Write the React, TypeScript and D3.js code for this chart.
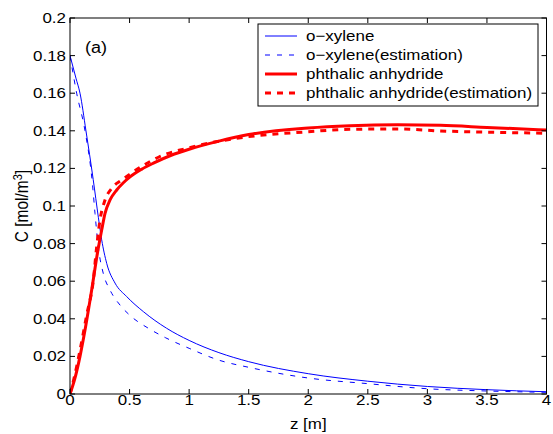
import React from "react";
import * as d3 from "d3";

const xyleneZ = [0, 0.05, 0.084, 0.134, 0.195, 0.238, 0.266, 0.308, 0.378, 0.476, 0.616, 0.81, 1.0, 1.25, 1.5, 2.0, 2.5, 3.0, 3.5, 4.0];
const xyleneC = [0.18, 0.168, 0.16, 0.14, 0.114, 0.094, 0.082, 0.0695, 0.059, 0.0518, 0.0438, 0.035, 0.0285, 0.022, 0.0172, 0.0108, 0.0068, 0.004, 0.0023, 0.0012];

const xyleneEstZ = [0, 0.056, 0.126, 0.188, 0.21, 0.238, 0.28, 0.336, 0.42, 0.5, 0.67, 0.8, 1.0, 1.25, 1.5, 2.0, 2.5, 3.0, 3.5, 4.0];
const xyleneEstC = [0.18, 0.16, 0.14, 0.112, 0.096, 0.078, 0.064, 0.0553, 0.0473, 0.042, 0.0345, 0.03, 0.0243, 0.018, 0.0142, 0.0085, 0.0055, 0.0028, 0.0016, 0.0009];

const paZ = [0, 0.04, 0.084, 0.126, 0.182, 0.23, 0.266, 0.294, 0.336, 0.392, 0.45, 0.504, 0.6, 0.7, 0.85, 1.0, 1.25, 1.5, 2.0, 2.35, 2.75, 3.11, 3.5, 4.0];
const paC = [0, 0.008, 0.02, 0.034, 0.0553, 0.0748, 0.0872, 0.0961, 0.1032, 0.1085, 0.1125, 0.1155, 0.1195, 0.1228, 0.127, 0.1302, 0.1345, 0.138, 0.1415, 0.1427, 0.1432, 0.1429, 0.1418, 0.1404];

const paEstZ = [0, 0.04, 0.08, 0.14, 0.196, 0.224, 0.252, 0.294, 0.35, 0.434, 0.5, 0.6, 0.75, 1.0, 1.5, 2.0, 2.35, 2.75, 3.11, 3.5, 4.0];
const paEstC = [0, 0.01, 0.022, 0.042, 0.0606, 0.0784, 0.0926, 0.1032, 0.1094, 0.1138, 0.1168, 0.121, 0.1262, 0.131, 0.1369, 0.1395, 0.1408, 0.141, 0.1399, 0.1393, 0.1387];

const xTicks = [0, 0.5, 1, 1.5, 2, 2.5, 3, 3.5, 4];
const yTicks = [0, 0.02, 0.04, 0.06, 0.08, 0.1, 0.12, 0.14, 0.16, 0.18, 0.2];

const legendLabels = ["o\u2212xylene", "o\u2212xylene(estimation)", "phthalic anhydride", "phthalic anhydride(estimation)"];

const W = 553, H = 434;
const L = 70, R = 546.5, T = 18, B = 394;
const FONT = "'Liberation Sans', Arial, Helvetica, sans-serif";
const FS = 15;
const SX = 1.13;

function Txt(props: { x: number; y: number; anchor?: string; children: React.ReactNode; size?: number }) {
  const { x, y, anchor = "start", children, size = FS } = props;
  return (
    <text transform={`translate(${x},${y}) scale(${SX},1)`} fontSize={size} textAnchor={anchor} fill="#000">
      {children}
    </text>
  );
}

export default function App() {
  const x = d3.scaleLinear().domain([0, 4]).range([L, R]);
  const y = d3.scaleLinear().domain([0, 0.2]).range([B, T]);
  const line = d3.line<[number, number]>().x(d => x(d[0])).y(d => y(d[1])).curve(d3.curveMonotoneX);
  const zip = (a: number[], b: number[]) => a.map((v, i) => [v, b[i]] as [number, number]);

  const series = [
    { d: zip(xyleneZ, xyleneC), stroke: "#0000ff", w: 1, dash: undefined as string | undefined },
    { d: zip(xyleneEstZ, xyleneEstC), stroke: "#0000ff", w: 1, dash: "5,7" },
    { d: zip(paZ, paC), stroke: "#ff0000", w: 3, dash: undefined },
    { d: zip(paEstZ, paEstC), stroke: "#ff0000", w: 3, dash: "6,6" },
  ];

  const legX = 258, legY = 24, legW = 280, legH = 82;
  const rowY = [36, 55, 74, 93];

  return (
    <svg width={W} height={H} style={{ position: "absolute", left: 0, top: 0, background: "#fff" }} fontFamily={FONT}>
      <rect x={0} y={0} width={W} height={H} fill="#fff" />
      <defs>
        <clipPath id="plotclip">
          <rect x={L} y={T} width={R - L} height={B - T} />
        </clipPath>
      </defs>
      <g clipPath="url(#plotclip)">
        {series.map((s, i) => (
          <path key={i} d={line(s.d) || ""} fill="none" stroke={s.stroke} strokeWidth={s.w} strokeDasharray={s.dash} />
        ))}
      </g>
      <rect x={L} y={T} width={R - L} height={B - T} fill="none" stroke="#000" strokeWidth={1} />
      {xTicks.map((t, i) => (
        <g key={"xt" + i}>
          <line x1={x(t)} x2={x(t)} y1={B} y2={B - 5} stroke="#000" />
          <line x1={x(t)} x2={x(t)} y1={T} y2={T + 5} stroke="#000" />
          <Txt x={x(t)} y={405} anchor="middle">{String(t)}</Txt>
        </g>
      ))}
      {yTicks.map((t, i) => (
        <g key={"yt" + i}>
          <line x1={L} x2={L + 5} y1={y(t)} y2={y(t)} stroke="#000" />
          <line x1={R} x2={R - 5} y1={y(t)} y2={y(t)} stroke="#000" />
          <Txt x={L - 4} y={y(t) + 5} anchor="end">{String(t)}</Txt>
        </g>
      ))}
      <Txt x={(L + R) / 2} y={429} anchor="middle">z [m]</Txt>
      <text transform={`translate(28,${(T + B) / 2}) rotate(-90) scale(1,${SX})`} fontSize={15.5} textAnchor="middle" fill="#000">
        C [mol/m<tspan dy={-5} fontSize={11}>3</tspan><tspan dy={5}>]</tspan>
      </text>
      <Txt x={85} y={53} size={16}>(a)</Txt>
      <rect x={legX} y={legY} width={legW} height={legH} fill="#fff" stroke="#000" strokeWidth={1} />
      {legendLabels.map((lab, i) => (
        <g key={"lg" + i}>
          <line x1={265} x2={297} y1={rowY[i]} y2={rowY[i]} stroke={series[i].stroke} strokeWidth={series[i].w} strokeDasharray={series[i].dash} />
          <Txt x={306} y={rowY[i] + 5}>{lab}</Txt>
        </g>
      ))}
    </svg>
  );
}
